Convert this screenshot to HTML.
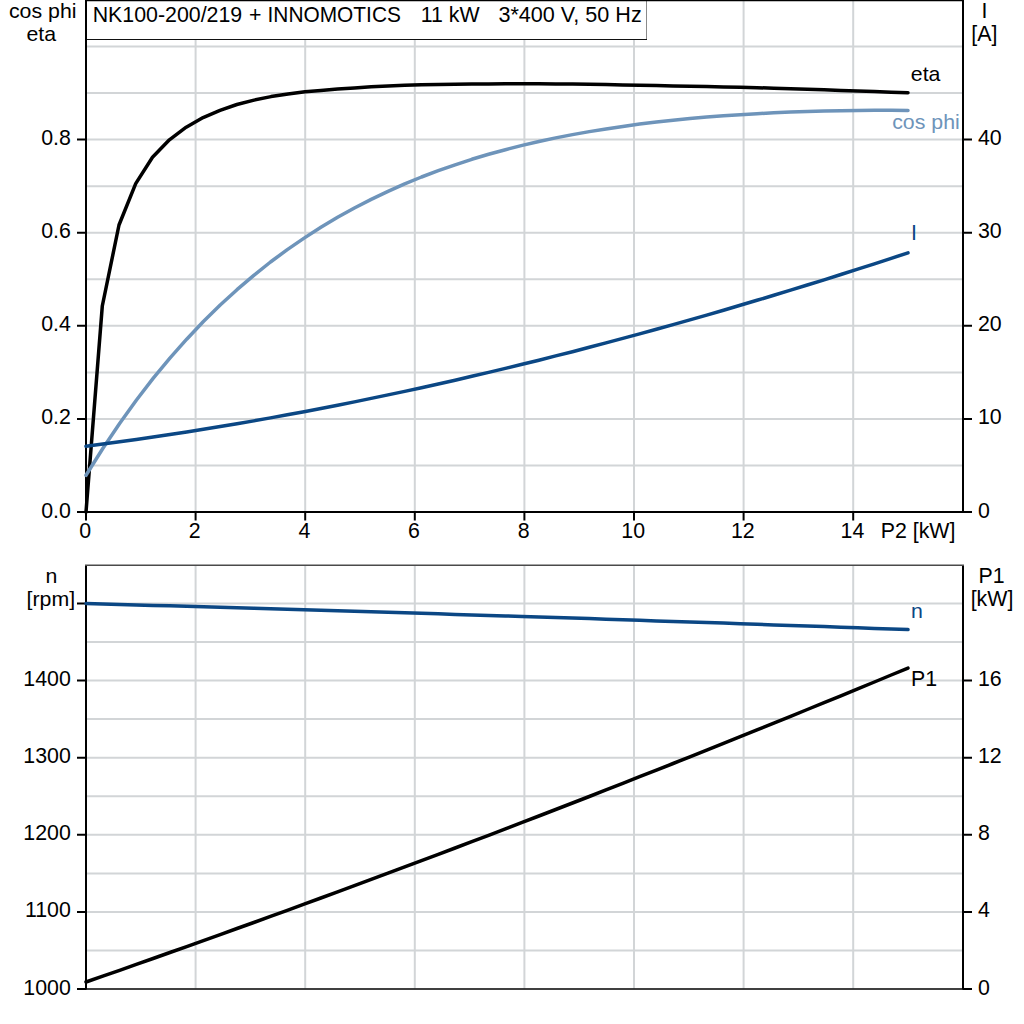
<!DOCTYPE html>
<html><head><meta charset="utf-8"><title>Motor curves</title>
<style>html,body{margin:0;padding:0;background:#fff;}svg{display:block;}text{font-family:"Liberation Sans",sans-serif;}</style></head>
<body>
<svg width="1024" height="1024" viewBox="0 0 1024 1024">
<rect width="1024" height="1024" fill="#fff"/>
<path d="M195.6,1 V511 M195.6,566 V988.5 M305.2,1 V511 M305.2,566 V988.5 M414.8,1 V511 M414.8,566 V988.5 M524.4,1 V511 M524.4,566 V988.5 M634.0,1 V511 M634.0,566 V988.5 M743.6,1 V511 M743.6,566 V988.5 M853.2,1 V511 M853.2,566 V988.5 M87,465.4 H962 M87,418.9 H962 M87,372.4 H962 M87,325.8 H962 M87,279.2 H962 M87,232.7 H962 M87,186.2 H962 M87,139.6 H962 M87,93.1 H962 M87,46.5 H962 M87,950.5 H962 M87,911.9 H962 M87,873.4 H962 M87,834.8 H962 M87,796.2 H962 M87,757.7 H962 M87,719.1 H962 M87,680.6 H962 M87,642.0 H962 M87,603.5 H962" stroke="#d2d5d7" stroke-width="2" fill="none"/>
<rect x="86" y="0" width="561" height="39.5" fill="#fff"/>
<path d="M646.5,0 V39.5" stroke="#8a8a8a" stroke-width="1" fill="none"/>
<path d="M86,39.5 H647" stroke="#111" stroke-width="1.2" fill="none"/>
<path d="M86,0 V513 M963,0 V513 M86,565 V989.5 M963,565 V989.5 M77,512 H972" stroke="#000" stroke-width="2" fill="none"/>
<path d="M77,418.9 H86 M77,325.8 H86 M77,232.7 H86 M77,139.6 H86 M963,418.9 H972 M963,325.8 H972 M963,232.7 H972 M963,139.6 H972 M86.0,512 V520.5 M195.6,512 V520.5 M305.2,512 V520.5 M414.8,512 V520.5 M524.4,512 V520.5 M634.0,512 V520.5 M743.6,512 V520.5 M853.2,512 V520.5 M77,989.0 H86 M77,911.9 H86 M77,834.8 H86 M77,757.7 H86 M77,680.6 H86 M77,603.5 H86 M963,989.0 H972 M963,911.9 H972 M963,834.8 H972 M963,757.7 H972 M963,680.6 H972" stroke="#000" stroke-width="2" fill="none"/>
<path d="M85,0.5 H964" stroke="#000" stroke-width="1.4" fill="none"/>
<path d="M85,565.3 H964" stroke="#4a4a4a" stroke-width="1.5" fill="none"/>
<path d="M85,989 H964" stroke="#000" stroke-width="1.3" fill="none"/>
<path d="M86.0,512.0 L102.3,306.0 L119.0,225.0 L135.7,183.6 L152.5,157.3 L169.4,139.8 L186.2,127.2 L203.1,117.6 L220.0,110.4 L236.9,104.5 L254.0,100.1 L271.0,96.6 L288.0,93.9 L305.0,91.8 L320.9,90.4 L337.6,89.1 L354.4,87.9 L371.2,86.8 L388.0,86.0 L404.7,85.3 L421.5,84.8 L438.3,84.4 L455.1,84.2 L471.8,84.0 L488.6,83.9 L505.4,83.8 L522.2,83.8 L538.9,83.8 L555.7,84.0 L572.5,84.1 L589.3,84.3 L606.0,84.6 L622.8,84.9 L639.6,85.2 L656.4,85.5 L673.1,85.9 L689.9,86.2 L706.7,86.6 L723.5,86.9 L740.2,87.3 L757.0,87.7 L773.8,88.2 L790.6,88.7 L807.3,89.2 L824.1,89.8 L840.9,90.5 L857.7,91.0 L874.4,91.6 L891.2,92.2 L908.0,92.7" stroke="#000" fill="none" stroke-width="3.5" stroke-linecap="round" stroke-linejoin="round"/>
<path d="M86.0,475.3 L102.8,448.5 L119.6,423.5 L136.3,400.2 L153.1,378.4 L169.9,358.1 L186.7,339.2 L203.4,321.5 L220.2,305.0 L237.0,289.7 L253.8,275.4 L270.5,262.0 L287.3,249.6 L304.1,238.1 L320.9,227.3 L337.6,217.3 L354.4,208.0 L371.2,199.4 L388.0,191.4 L404.7,183.9 L421.5,177.0 L438.3,170.7 L455.1,164.8 L471.8,159.3 L488.6,154.3 L505.4,149.7 L522.2,145.4 L538.9,141.5 L555.7,137.9 L572.5,134.6 L589.3,131.6 L606.0,128.9 L622.8,126.4 L639.6,124.1 L656.4,122.1 L673.1,120.2 L689.9,118.6 L706.7,117.1 L723.5,115.8 L740.2,114.7 L757.0,113.7 L773.8,112.8 L790.6,112.1 L807.3,111.5 L824.1,111.1 L840.9,110.7 L857.7,110.5 L874.4,110.3 L891.2,110.3 L908.0,110.4" stroke="#6e94ba" fill="none" stroke-width="3.5" stroke-linecap="round" stroke-linejoin="round"/>
<path d="M86.0,446.2 L102.8,444.1 L119.6,441.8 L136.3,439.5 L153.1,437.1 L169.9,434.6 L186.7,432.0 L203.4,429.3 L220.2,426.6 L237.0,423.8 L253.8,420.9 L270.5,417.9 L287.3,414.8 L304.1,411.7 L320.9,408.5 L337.6,405.2 L354.4,401.9 L371.2,398.4 L388.0,394.9 L404.7,391.4 L421.5,387.7 L438.3,384.0 L455.1,380.2 L471.8,376.3 L488.6,372.4 L505.4,368.4 L522.2,364.3 L538.9,360.2 L555.7,355.9 L572.5,351.7 L589.3,347.3 L606.0,342.9 L622.8,338.4 L639.6,333.9 L656.4,329.3 L673.1,324.6 L689.9,319.9 L706.7,315.1 L723.5,310.2 L740.2,305.3 L757.0,300.3 L773.8,295.3 L790.6,290.2 L807.3,285.0 L824.1,279.8 L840.9,274.5 L857.7,269.2 L874.4,263.8 L891.2,258.3 L908.0,252.8" stroke="#0b4784" fill="none" stroke-width="3.5" stroke-linecap="round" stroke-linejoin="round"/>
<path d="M86.0,982.0 L102.8,976.1 L119.6,970.3 L136.3,964.4 L153.1,958.5 L169.9,952.5 L186.7,946.6 L203.4,940.6 L220.2,934.6 L237.0,928.5 L253.8,922.5 L270.5,916.4 L287.3,910.3 L304.1,904.2 L320.9,898.0 L337.6,891.9 L354.4,885.7 L371.2,879.4 L388.0,873.2 L404.7,866.9 L421.5,860.6 L438.3,854.3 L455.1,848.0 L471.8,841.6 L488.6,835.3 L505.4,828.8 L522.2,822.4 L538.9,816.0 L555.7,809.5 L572.5,803.0 L589.3,796.5 L606.0,789.9 L622.8,783.3 L639.6,776.7 L656.4,770.1 L673.1,763.5 L689.9,756.8 L706.7,750.1 L723.5,743.4 L740.2,736.7 L757.0,729.9 L773.8,723.2 L790.6,716.3 L807.3,709.5 L824.1,702.7 L840.9,695.8 L857.7,688.9 L874.4,682.0 L891.2,675.0 L908.0,668.1" stroke="#000" fill="none" stroke-width="3.5" stroke-linecap="round" stroke-linejoin="round"/>
<path d="M86.0,603.5 L102.8,604.0 L119.6,604.4 L136.3,604.9 L153.1,605.4 L169.9,605.8 L186.7,606.3 L203.4,606.8 L220.2,607.3 L237.0,607.8 L253.8,608.3 L270.5,608.7 L287.3,609.2 L304.1,609.7 L320.9,610.2 L337.6,610.7 L354.4,611.3 L371.2,611.8 L388.0,612.3 L404.7,612.8 L421.5,613.3 L438.3,613.8 L455.1,614.4 L471.8,614.9 L488.6,615.4 L505.4,615.9 L522.2,616.5 L538.9,617.0 L555.7,617.6 L572.5,618.1 L589.3,618.6 L606.0,619.2 L622.8,619.7 L639.6,620.3 L656.4,620.9 L673.1,621.4 L689.9,622.0 L706.7,622.6 L723.5,623.1 L740.2,623.7 L757.0,624.3 L773.8,624.9 L790.6,625.4 L807.3,626.0 L824.1,626.6 L840.9,627.2 L857.7,627.8 L874.4,628.4 L891.2,629.0 L908.0,629.6" stroke="#0b4784" fill="none" stroke-width="3.5" stroke-linecap="round" stroke-linejoin="round"/>
<g font-family="'Liberation Sans', sans-serif" font-size="21.33px" fill="#000">
<text x="92.7" y="22" text-anchor="start" textLength="149.5" lengthAdjust="spacingAndGlyphs">NK100-200/219</text>
<text x="249" y="22" text-anchor="start">+</text>
<text x="267.5" y="22" text-anchor="start" textLength="133.4" lengthAdjust="spacingAndGlyphs">INNOMOTICS</text>
<text x="420.8" y="22" text-anchor="start" textLength="58.9" lengthAdjust="spacingAndGlyphs">11 kW</text>
<text x="498.4" y="22" text-anchor="start" textLength="143.3" lengthAdjust="spacingAndGlyphs">3*400 V, 50 Hz</text>
<text transform="translate(42.7,18) scale(1.045,1)" font-size="20.4px" text-anchor="middle">cos phi</text>
<text transform="translate(41.3,41) scale(1.045,1)" font-size="20.4px" text-anchor="middle">eta</text>
<text x="984.4" y="18" text-anchor="middle">I</text>
<text x="984.4" y="41" text-anchor="middle">[A]</text>
<text transform="translate(51.3,583) scale(1.045,1)" font-size="20.4px" text-anchor="middle">n</text>
<text transform="translate(50.8,606) scale(1.045,1)" font-size="20.4px" text-anchor="middle">[rpm]</text>
<text x="991.5" y="583" text-anchor="middle">P1</text>
<text x="992" y="606" text-anchor="middle">[kW]</text>
<text x="70.8" y="517.5" text-anchor="end">0.0</text>
<text x="70.8" y="424.4" text-anchor="end">0.2</text>
<text x="70.8" y="331.3" text-anchor="end">0.4</text>
<text x="70.8" y="238.2" text-anchor="end">0.6</text>
<text x="70.8" y="145.1" text-anchor="end">0.8</text>
<text x="978" y="517.5" text-anchor="start">0</text>
<text x="978" y="424.4" text-anchor="start">10</text>
<text x="978" y="331.3" text-anchor="start">20</text>
<text x="978" y="238.2" text-anchor="start">30</text>
<text x="978" y="145.1" text-anchor="start">40</text>
<text x="85.2" y="537.9" text-anchor="middle">0</text>
<text x="194.8" y="537.9" text-anchor="middle">2</text>
<text x="304.4" y="537.9" text-anchor="middle">4</text>
<text x="414.0" y="537.9" text-anchor="middle">6</text>
<text x="523.6" y="537.9" text-anchor="middle">8</text>
<text x="633.2" y="537.9" text-anchor="middle">10</text>
<text x="742.8" y="537.9" text-anchor="middle">12</text>
<text x="852.4" y="537.9" text-anchor="middle">14</text>
<text x="955.4" y="537.9" text-anchor="end">P2 [kW]</text>
<text x="70.8" y="994.5" text-anchor="end">1000</text>
<text x="70.8" y="917.4" text-anchor="end">1100</text>
<text x="70.8" y="840.3" text-anchor="end">1200</text>
<text x="70.8" y="763.2" text-anchor="end">1300</text>
<text x="70.8" y="686.1" text-anchor="end">1400</text>
<text x="978" y="994.5" text-anchor="start">0</text>
<text x="978" y="917.4" text-anchor="start">4</text>
<text x="978" y="840.3" text-anchor="start">8</text>
<text x="978" y="763.2" text-anchor="start">12</text>
<text x="978" y="686.1" text-anchor="start">16</text>
<text transform="translate(910.8,80.8) scale(1.045,1)" font-size="20.4px" text-anchor="start">eta</text>
<text transform="translate(892.2,128.8) scale(1.045,1)" font-size="20.4px" text-anchor="start" fill="#6e94ba">cos phi</text>
<text x="911" y="240" text-anchor="start" fill="#0b4784">I</text>
<text transform="translate(910.9,617.6) scale(1.045,1)" font-size="20.4px" text-anchor="start" fill="#0b4784">n</text>
<text x="911" y="686" text-anchor="start">P1</text>
</g>
</svg>
</body></html>
